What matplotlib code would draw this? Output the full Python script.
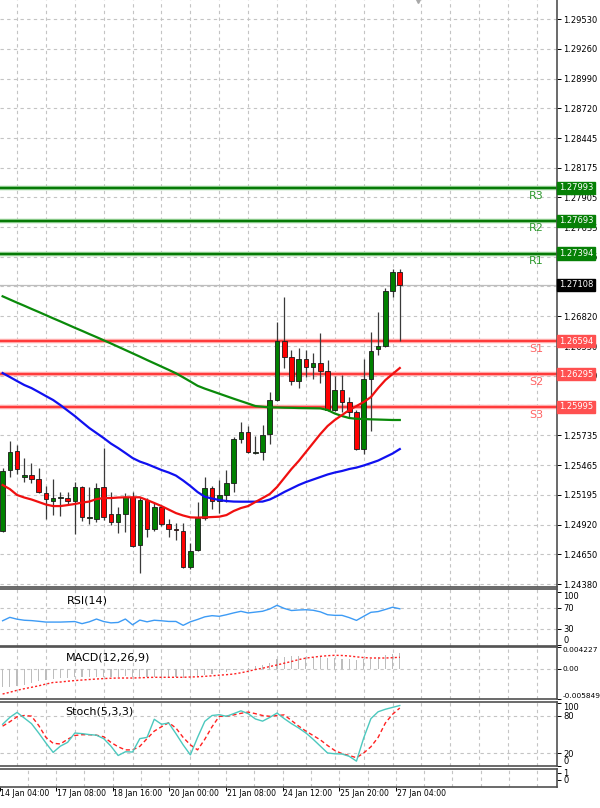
import matplotlib
matplotlib.use("Agg")
import matplotlib.pyplot as plt
import matplotlib.transforms as mtransforms
from matplotlib.patches import Rectangle

plt.rcParams['font.family'] = ['DejaVu Sans']

# ---- data ----
opens = [1.24863, 1.25417, 1.25590, 1.25353, 1.25371, 1.25335, 1.25213, 1.25140, 1.25162, 1.25162,
         1.25140, 1.25262, 1.24985, 1.24973, 1.25262, 1.25016, 1.24948, 1.25016, 1.25171, 1.24736,
         1.25146, 1.24879, 1.25079, 1.24924, 1.24882, 1.24866, 1.24538, 1.24690, 1.24985, 1.25258,
         1.25140, 1.25192, 1.25304, 1.25700, 1.25763, 1.25578, 1.25581, 1.25748, 1.26058, 1.26599,
         1.26453, 1.26234, 1.26429, 1.26356, 1.26398, 1.26322, 1.25967, 1.26149, 1.26043, 1.25951,
         1.25608, 1.26247, 1.26520, 1.26550, 1.27052, 1.27223]
highs = [1.25435, 1.25684, 1.25648, 1.25526, 1.25481, 1.25435, 1.25274, 1.25338, 1.25216, 1.25222,
         1.25313, 1.25274, 1.25262, 1.25298, 1.25617, 1.25222, 1.25085, 1.25213, 1.25222, 1.25171,
         1.25162, 1.25121, 1.25091, 1.24970, 1.24933, 1.24933, 1.24751, 1.25130, 1.25353, 1.25274,
         1.25330, 1.25420, 1.25723, 1.25860, 1.25821, 1.25730, 1.25830, 1.26134, 1.26772, 1.27000,
         1.26514, 1.26530, 1.26514, 1.26490, 1.26672, 1.26423, 1.26280, 1.26286, 1.26088, 1.25967,
         1.26432, 1.26676, 1.26858, 1.27077, 1.27250, 1.27250]
lows = [1.24851, 1.25359, 1.25380, 1.25313, 1.25298, 1.25207, 1.24970, 1.25006, 1.25003, 1.25110,
        1.24833, 1.24957, 1.24924, 1.24948, 1.24964, 1.24918, 1.24842, 1.24857, 1.24720, 1.24477,
        1.24811, 1.24863, 1.24909, 1.24806, 1.24781, 1.24523, 1.24514, 1.24684, 1.24964, 1.25061,
        1.25030, 1.25130, 1.25222, 1.25663, 1.25572, 1.25566, 1.25511, 1.25654, 1.26052, 1.26347,
        1.26195, 1.26165, 1.26265, 1.26247, 1.26210, 1.25958, 1.25958, 1.25951, 1.25897, 1.25600,
        1.25566, 1.25778, 1.26468, 1.26544, 1.26999, 1.26596]
closes = [1.25413, 1.25584, 1.25426, 1.25371, 1.25335, 1.25222, 1.25152, 1.25162, 1.25171, 1.25137,
          1.25262, 1.24988, 1.24991, 1.25253, 1.24988, 1.24948, 1.25016, 1.25171, 1.24726, 1.25146,
          1.24879, 1.25079, 1.24927, 1.24879, 1.24876, 1.24538, 1.24684, 1.24985, 1.25258, 1.25140,
          1.25192, 1.25304, 1.25700, 1.25763, 1.25581, 1.25584, 1.25739, 1.26058, 1.26599, 1.26453,
          1.26234, 1.26429, 1.26356, 1.26398, 1.26325, 1.25967, 1.26149, 1.26043, 1.25951, 1.25608,
          1.26247, 1.26508, 1.26550, 1.27052, 1.27223, 1.27108]

ma_red = [1.25283, 1.25246, 1.25192, 1.25169, 1.25151, 1.25128, 1.25105, 1.25091, 1.25091, 1.25100,
          1.25110, 1.25123, 1.25132, 1.25155, 1.25164, 1.25164, 1.25169, 1.25171, 1.25171, 1.25171,
          1.25146, 1.25119, 1.25091, 1.25059, 1.25027, 1.25005, 1.24988, 1.24986, 1.24988, 1.24991,
          1.24994, 1.25009, 1.25046, 1.25073, 1.25091, 1.25128, 1.25164, 1.25201, 1.25265, 1.25347,
          1.25429, 1.25502, 1.25584, 1.25666, 1.25748, 1.25821, 1.25876, 1.25921, 1.25967, 1.26003,
          1.26040, 1.26085, 1.26167, 1.26240, 1.26295, 1.26350]
ma_blue = [1.26304, 1.26268, 1.26231, 1.26195, 1.26167, 1.26131, 1.26094, 1.26058, 1.26012, 1.25962,
           1.25912, 1.25857, 1.25803, 1.25757, 1.25711, 1.25661, 1.25620, 1.25575, 1.25529, 1.25497,
           1.25474, 1.25447, 1.25420, 1.25397, 1.25369, 1.25324, 1.25274, 1.25219, 1.25176, 1.25160,
           1.25146, 1.25137, 1.25132, 1.25131, 1.25131, 1.25131, 1.25132, 1.25151, 1.25183, 1.25219,
           1.25251, 1.25283, 1.25310, 1.25333, 1.25356, 1.25379, 1.25397, 1.25411, 1.25429, 1.25442,
           1.25461, 1.25483, 1.25506, 1.25538, 1.25570, 1.25611]
ma_green = [1.27004, 1.26975, 1.26946, 1.26918, 1.26889, 1.26861, 1.26832, 1.26803, 1.26775, 1.26746,
            1.26717, 1.26689, 1.26660, 1.26632, 1.26603, 1.26574, 1.26544, 1.26514, 1.26484, 1.26454,
            1.26423, 1.26393, 1.26363, 1.26333, 1.26302, 1.26265, 1.26227, 1.26188, 1.26162, 1.26139,
            1.26116, 1.26093, 1.26070, 1.26048, 1.26026, 1.26003, 1.25997, 1.25991, 1.25990, 1.25988,
            1.25987, 1.25985, 1.25984, 1.25983, 1.25982, 1.25967, 1.25935, 1.25912, 1.25894, 1.25887,
            1.25885, 1.25882, 1.25880, 1.25878, 1.25876, 1.25876]

rsi = [45.5, 52, 48.5, 46.5, 45.8, 44.5, 43, 43, 43, 43.5, 44, 40, 43.5, 48.8, 44, 41.5, 42.3, 48.8,
       37.8, 46.8, 43.5, 46.5, 45.5, 44.2, 44.2, 36.8, 43.5, 48, 53, 55.2, 54, 57, 60.5, 63.5, 60.4,
       62, 63.6, 68, 75, 69, 65, 66, 66.5, 65.5, 62.5, 57, 55.8, 55.8, 51.5, 46.2, 54, 61.6, 63, 67,
       71.3, 68.3]
macd_main = [-0.00351, -0.00351, -0.00341, -0.00312, -0.00273, -0.00240, -0.00215, -0.00195, -0.00181,
             -0.00170, -0.00162, -0.00162, -0.00162, -0.00156, -0.00152, -0.00150, -0.00150, -0.00146,
             -0.00156, -0.00150, -0.00150, -0.00150, -0.00150, -0.00156, -0.00162, -0.00170, -0.00166,
             -0.00146, -0.00117, -0.00098, -0.00078, -0.00053, -0.00020, 0.00006, 0.00029, 0.00058,
             0.00087, 0.00126, 0.00185, 0.00234, 0.00247, 0.00257, 0.00243, 0.00234, 0.00234, 0.00214,
             0.00208, 0.00204, 0.00195, 0.00175, 0.00185, 0.00204, 0.00234, 0.00263, 0.00292, 0.00311]
macd_signal = [-0.00488, -0.00454, -0.00415, -0.00384, -0.00357, -0.00328, -0.00293, -0.00263, -0.00254,
               -0.00238, -0.00226, -0.00215, -0.00205, -0.00195, -0.00187, -0.00180, -0.00176, -0.00176,
               -0.00176, -0.00172, -0.00166, -0.00162, -0.00162, -0.00162, -0.00162, -0.00162, -0.00156,
               -0.00152, -0.00143, -0.00133, -0.00121, -0.00111, -0.00098, -0.00074, -0.00045, -0.00010,
               0.00015, 0.00048, 0.00078, 0.00113, 0.00146, 0.00183, 0.00212, 0.00230, 0.00247, 0.00259,
               0.00267, 0.00263, 0.00253, 0.00237, 0.00222, 0.00214, 0.00214, 0.00214, 0.00220, 0.00228]
stoch_main = [66, 77, 85, 76, 67, 52, 36, 21, 31, 37, 52, 51, 49.5, 48.5, 43, 31, 16, 22, 21.6, 43,
              45, 74, 66, 68, 51, 33, 17, 45, 70.7, 80, 81.3, 78.7, 83, 87.5, 83, 74.5, 71, 77, 84, 75,
              67, 60, 52, 42, 31, 20, 18.8, 18.4, 14.7, 7, 44, 75, 86, 90, 93, 96]
stoch_signal = [63, 70, 78, 80, 79, 64, 45, 35.5, 34.5, 42, 48, 49.3, 49.3, 48.5, 46, 37, 30, 25, 25,
                30.7, 43, 55, 62, 68.5, 60, 45, 33, 25, 42, 62, 78.7, 78.7, 81, 83.5, 85.5, 83, 80,
                78.7, 80, 81, 72, 63, 55, 48, 41, 32, 24, 19, 16, 12.5, 20, 30, 45, 68, 82, 92]

res_names = ["R1", "R2", "R3"]
res_levels = [1.27394, 1.27693, 1.27993]
sup_names = ["S1", "S2", "S3"]
sup_levels = [1.26594, 1.26295, 1.25995]
last_price = 1.27108

# grid levels of the price scale; the two hidden under the price boxes get no label
price_ticks = [1.24380, 1.24650, 1.24920, 1.25195, 1.25465, 1.25735, 1.26010, 1.26280, 1.26550,
               1.26820, 1.27095, 1.27365, 1.27635, 1.27905, 1.28175, 1.28445, 1.28720, 1.28990,
               1.29260, 1.29530]
hidden_ticks = [1.26010, 1.27095]
date_pos = [-2, 6, 14, 22, 30, 38, 46, 54]
date_labels = ["14 Jan 04:00", "17 Jan 08:00", "18 Jan 16:00", "20 Jan 00:00",
               "21 Jan 08:00", "24 Jan 12:00", "25 Jan 20:00", "27 Jan 04:00"]

# ---- layout (pixel based, MT4 look) ----
W, H = 600, 808
fig = plt.figure(figsize=(W / 100, H / 100), dpi=100)
fig.patch.set_facecolor("white")

XLIM = (-0.43, 76.7)
SPINE = "#505050"
GRID = "#C4C4C4"


def panel(top_px, bottom_px):
    ax = fig.add_axes([-0.5 / W, (H - bottom_px) / H, 557 / W, (bottom_px - top_px) / H])
    ax.set_xlim(*XLIM)
    ax.set_facecolor("white")
    ax.spines["left"].set_visible(False)
    for s in ["top", "bottom", "right"]:
        ax.spines[s].set_color(SPINE)
        ax.spines[s].set_linewidth(1.2)
    ax.yaxis.tick_right()
    ax.tick_params(axis="y", length=3, width=0.7, labelsize=6, pad=2, colors="black")
    ax.tick_params(axis="x", bottom=False, labelbottom=False)
    for k in range(2, 77, 4):
        ax.axvline(k, color=GRID, lw=0.8, ls=(0, (3, 3)), zorder=0)
    return ax


ax = panel(0, 587)
ax.spines["top"].set_visible(False)
ax_rsi = panel(589, 645.7)
ax_macd = panel(647.3, 699)
ax_st = panel(701.7, 765.7)
ax_nil = panel(768.5, 787)

idx = list(range(len(closes)))

# ---- main price panel ----
ax.set_ylim(1.24353, 1.29706)
ax.set_yticks(price_ticks)
ax.set_yticklabels(["" if p in hidden_ticks else "%.5f" % p for p in price_ticks])
for p in price_ticks:
    ax.axhline(p, color=GRID, lw=0.8, ls=(0, (3, 3)), zorder=0)

ax.axhline(last_price, color="#BDBDBD", lw=0.9, zorder=1)

for i in idx:
    o, h, l, c = opens[i], highs[i], lows[i], closes[i]
    ax.vlines(i, l, h, color="#3A3A3A", lw=0.9, zorder=3)
    col = "#008000" if c >= o else "#FF0000"
    body = max(abs(c - o), 0.00002)
    ax.add_patch(Rectangle((i - 0.32, min(o, c)), 0.64, body, facecolor=col,
                           edgecolor="#1A1A1A", lw=0.6, zorder=4))

ax.plot(idx, ma_green, color="#0A8A0A", lw=1.6, zorder=5)
ax.plot(idx, ma_blue, color="#1010F0", lw=1.6, zorder=5)
ax.plot(idx, ma_red, color="#F01010", lw=1.6, zorder=5)

blend = mtransforms.blended_transform_factory(ax.transAxes, ax.transData)
for name, lvl in zip(res_names, res_levels):
    ax.axhline(lvl, color="#8CCB8C", lw=3.2, zorder=2)
    ax.axhline(lvl, color="#067A06", lw=1.5, zorder=2)
    ax.text(73.9, lvl - 0.0007, name, color="#2E9A2E", fontsize=8, ha="center", va="center")
    ax.text(1.004, lvl, "%.5f" % lvl, transform=blend, color="white", fontsize=6, ha="left",
            va="center", clip_on=False, zorder=10,
            bbox=dict(boxstyle="square,pad=0.2", fc="#068006", ec="#068006"))
for name, lvl in zip(sup_names, sup_levels):
    ax.axhline(lvl, color="#FFA8A8", lw=3.2, zorder=2)
    ax.axhline(lvl, color="#FF3030", lw=1.3, zorder=2)
    ax.text(73.9, lvl - 0.0007, name, color="#FF6464", fontsize=8, ha="center", va="center")
    ax.text(1.004, lvl, "%.5f" % lvl, transform=blend, color="white", fontsize=6, ha="left",
            va="center", clip_on=False, zorder=10,
            bbox=dict(boxstyle="square,pad=0.2", fc="#FF5050", ec="#FF5050"))
ax.text(1.004, last_price, "%.5f" % last_price, transform=blend, color="white", fontsize=6,
        ha="left", va="center", clip_on=False, zorder=10,
        bbox=dict(boxstyle="square,pad=0.2", fc="black", ec="black"))

# chart shift marker at the top
ax.plot([57.5], [1.29706], marker="v", ms=5, color="#A8A8A8", clip_on=False, zorder=6)

# ---- RSI ----
ax_rsi.set_ylim(-2, 106)
ax_rsi.set_yticks([0, 30, 70, 100])
for v in (30, 70):
    ax_rsi.axhline(v, color=GRID, lw=0.8, ls=(0, (3, 3)), zorder=0)
ax_rsi.plot(idx, rsi, color="#3D9BF5", lw=1.0)
ax_rsi.text(67 / 556, 0.8, "RSI(14)", transform=ax_rsi.transAxes, fontsize=8, va="center")
labs = ax_rsi.get_yticklabels()
labs[0].set_va("bottom")
labs[-1].set_va("top")

# ---- MACD ----
ax_macd.set_ylim(-0.005849, 0.004227)
ax_macd.set_yticks([-0.005849, 0.0, 0.004227])
ax_macd.set_yticklabels(["-0.005849", "0.00", "0.004227"])
ax_macd.tick_params(axis="y", labelsize=5.3, pad=1.5)
ax_macd.axhline(0, color=GRID, lw=0.8, ls=(0, (3, 3)), zorder=0)
ax_macd.bar(idx, macd_main, width=0.16, color="#BDBDBD", zorder=2)
ax_macd.plot(idx, macd_signal, color="#FF2020", lw=1.0, ls=(0, (1.5, 1.5)), zorder=3)
ax_macd.text(66 / 556, 0.8, "MACD(12,26,9)", transform=ax_macd.transAxes, fontsize=8, va="center")
labs = ax_macd.get_yticklabels()
labs[0].set_va("bottom")
labs[-1].set_va("top")

# ---- Stochastic ----
ax_st.set_ylim(-0.3, 102.1)
ax_st.set_yticks([0, 20, 80, 100])
for v in (20, 80):
    ax_st.axhline(v, color=GRID, lw=0.8, ls=(0, (3, 3)), zorder=0)
ax_st.plot(idx, stoch_main, color="#4CC8BE", lw=1.0, zorder=3)
ax_st.plot(idx, stoch_signal, color="#FF2020", lw=1.0, ls=(0, (3, 2)), zorder=2)
ax_st.text(66 / 556, 0.84, "Stoch(5,3,3)", transform=ax_st.transAxes, fontsize=8, va="center")
labs = ax_st.get_yticklabels()
labs[0].set_va("bottom")
labs[-1].set_va("top")

# ---- empty bottom window with the time axis ----
ax_nil.set_ylim(-1, 1.64)
ax_nil.set_yticks([0, 1])
ax_nil.set_xticks(date_pos)
ax_nil.tick_params(axis="x", bottom=True, labelbottom=False, length=3, width=0.7)
tb = mtransforms.blended_transform_factory(ax_nil.transData, ax_nil.transAxes)
for p, lab in zip(date_pos, date_labels):
    ax_nil.text(p + 0.1, -0.12, lab, transform=tb, ha="left", va="top", fontsize=5.6,
                clip_on=False)

fig.savefig("out.png", dpi=100)
